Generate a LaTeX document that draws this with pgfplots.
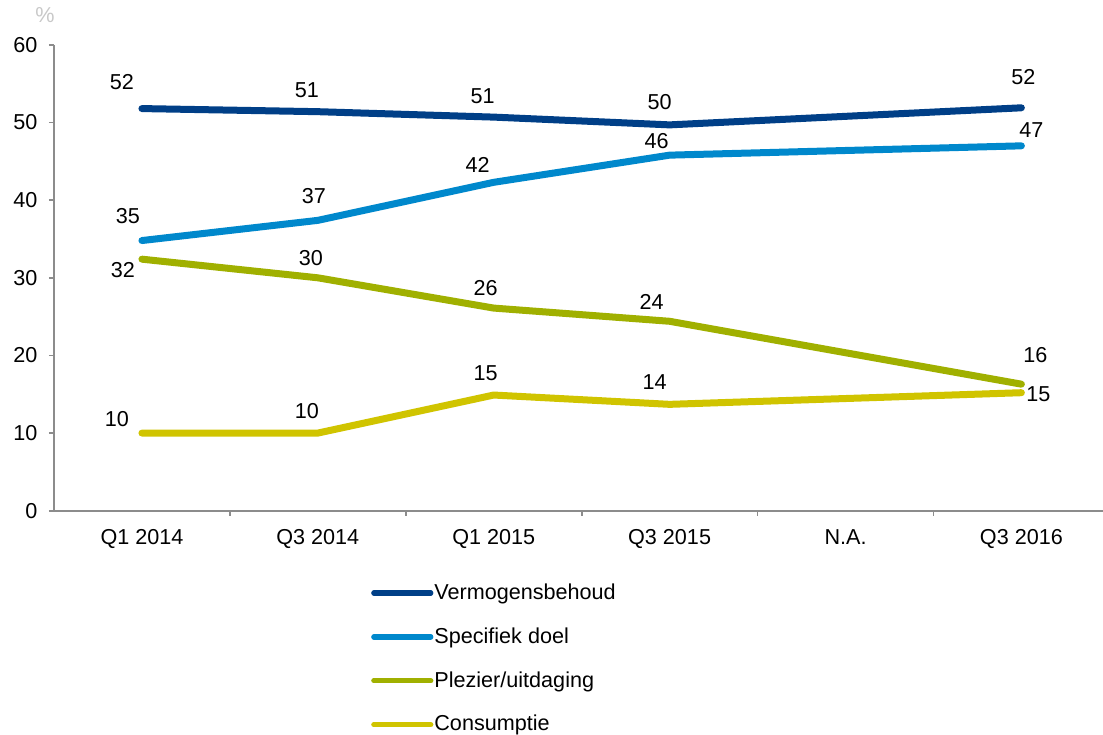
\documentclass[border=0pt]{standalone}
\usepackage{fontspec}
\setmainfont{Liberation Sans}
\usepackage{pgfplots}
\usepackage{pgfplotstable}
\pgfplotsset{compat=1.18}

\definecolor{verm}{RGB}{0,63,135}
\definecolor{spec}{RGB}{0,136,204}
\definecolor{plez}{RGB}{160,176,0}
\definecolor{cons}{RGB}{208,196,0}
\definecolor{axgray}{RGB}{140,140,140}
\definecolor{pctgray}{RGB}{200,200,200}

% x: 0=Q1 2014 ... 4=N.A. (no data), 5=Q3 2016; dx/dy = label offset in px
\pgfplotstableread{
x y lab dx dy
0 51.8 52 -20 27
1 51.4 51 -11 22
2 50.7 51 -11 21
3 49.7 50 -10 23
5 51.9 52 2 31
}\verm
\pgfplotstableread{
x y lab dx dy
0 34.8 35 -14 24
1 37.4 37 -4 24
2 42.3 42 -16 17
3 45.8 46 -13 14
5 47.0 47 10 16
}\spec
\pgfplotstableread{
x y lab dx dy
0 32.4 32 -19 -11
1 30.0 30 -7 20
2 26.1 26 -8 20
3 24.4 24 -18 19
5 16.3 16 14 29
}\plez
\pgfplotstableread{
x y lab dx dy
0 10.0 10 -25 14
1 10.0 10 -11 22
2 14.9 15 -8 22
3 13.7 14 -15 22
5 15.2 15 17 -1
}\cons

\begin{document}
\fontsize{10.8}{12.5}\selectfont
\begin{tikzpicture}
\begin{axis}[
    scale only axis,
    width=524.5pt, height=232.9pt,
    xmin=-0.5, xmax=5.464,
    ymin=0, ymax=60,
    axis lines=left,
    axis line style={-, draw=axgray, line width=0.9pt},
    xtick={0,1,2,3,4,5},
    xticklabels={Q1 2014,Q3 2014,Q1 2015,Q3 2015,N.A.,Q3 2016},
    major x tick style={draw=none},
    minor xtick={0.5,1.5,2.5,3.5,4.5},
    minor x tick style={draw=axgray, line width=0.9pt},
    minor tick length=2.5pt,
    ytick={0,10,...,60},
    y tick style={draw=axgray, line width=0.9pt},
    major tick length=2.5pt,
    tick align=outside,
    xticklabel style={font=\fontsize{10.8}{12.5}\selectfont, yshift=-3pt},
    yticklabel style={font=\fontsize{10.8}{12.5}\selectfont, xshift=-2pt},
    /pgf/number format/assume math mode=true,
    legend style={at={(rel axis cs:0.302,-0.147)}, anchor=north west,
        draw=none, fill=none, inner sep=0pt, row sep=8.5pt,
        font=\fontsize{10.8}{12.5}\selectfont,
        nodes={inner xsep=0.5pt}},
    legend cell align=left,
    legend image code/.code={\draw[line width=2.6pt, line cap=round] (0pt,0pt) -- (28.5pt,0pt);},
    every axis plot/.append style={line width=3.5pt, line cap=round, line join=round},
    nodes near coords,
    point meta=explicit symbolic,
    visualization depends on={\thisrow{dx}\as\dx},
    visualization depends on={\thisrow{dy}\as\dy},
    every node near coord/.append style={anchor=center, text=black,
        font=\fontsize{10.8}{12.5}\selectfont,
        xshift=\dx*0.5pt, yshift=\dy*0.5pt},
]
\addplot[verm] table[x=x, y=y, meta=lab]{\verm};
\addlegendentry{Vermogensbehoud}
\addplot[spec] table[x=x, y=y, meta=lab]{\spec};
\addlegendentry{Specifiek doel}
\addplot[plez] table[x=x, y=y, meta=lab]{\plez};
\addlegendentry{Plezier/uitdaging}
\addplot[cons] table[x=x, y=y, meta=lab]{\cons};
\addlegendentry{Consumptie}
\end{axis}
\node[text=pctgray, font=\fontsize{10.8}{12.5}\selectfont] at (-4.5pt,247.9pt) {\%};
\pgfresetboundingbox
\path (-27pt,-111.65pt) rectangle (524.5pt,255.35pt);
\end{tikzpicture}
\end{document}
